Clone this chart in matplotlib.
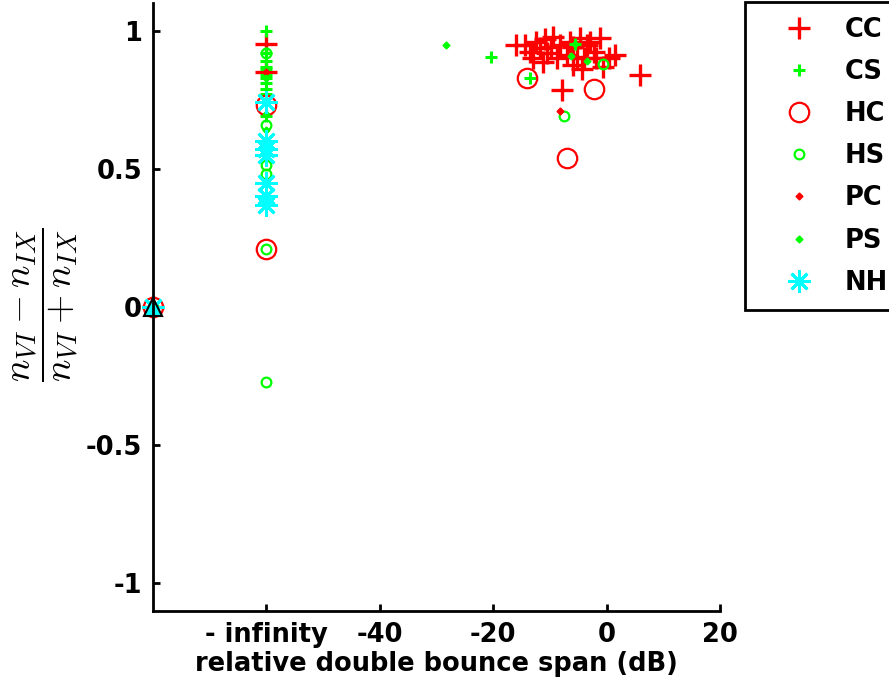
import matplotlib
matplotlib.use("Agg")
import matplotlib.pyplot as plt

plt.rcParams['font.family'] = ['DejaVu Sans']
plt.rcParams['font.weight'] = 'bold'
plt.rcParams['mathtext.fontset'] = 'cm'

# CC: red plus
cc_x = [-80, -60, -60, -15.9, -14.4, -13.5, -13.0, -12.5, -11.7, -11.2, -10.9, -10.5, -9.8, -9.4,
        -8.7, -8.2, -7.0, -6.5, -6.0, -5.9, -5.3, -4.7, -4.3, -4.0, -3.5, -3.0, -2.3, -1.8, -1.2,
        -0.6, 0.5, 1.5, -7.9, 5.9]
cc_y = [0, 0.95, 0.85, 0.948, 0.948, 0.924, 0.90, 0.96, 0.936, 0.888, 0.97, 0.92, 0.94, 0.978,
        0.90, 0.948, 0.912, 0.96, 0.94, 0.876, 0.906, 0.972, 0.86, 0.90, 0.948, 0.96, 0.924, 0.90, 0.972,
        0.87, 0.90, 0.912, 0.786, 0.84]
# CS: green plus
cs_x = [-80, -60, -60, -60, -60, -60, -60, -60, -60, -60, -60, -60, -20.3, -13.5, -5.5]
cs_y = [0, 1.0, 0.92, 0.89, 0.87, 0.86, 0.84, 0.83, 0.81, 0.79, 0.77, 0.69, 0.906, 0.83, 0.95]
# HC: red circle
hc_x = [-80, -60, -60, -14.1, -2.3, -6.9]
hc_y = [0, 0.73, 0.21, 0.83, 0.79, 0.54]
# HS: green circle
hs_x = [-80, -60, -60, -60, -60, -60, -60, -7.6, -0.6]
hs_y = [0, 0.92, 0.66, 0.515, 0.48, 0.21, -0.27, 0.69, 0.88]
# PC: red diamond
pc_x = [-80, -60, -8.2]
pc_y = [0, 0.85, 0.71]
# PS: green diamond
ps_x = [-80, -60, -60, -60, -60, -28.3, -5.5, -6.2, -3.5]
ps_y = [0, 0.83, 0.75, 0.70, 0.64, 0.949, 0.95, 0.91, 0.89]
# NH: cyan asterisk
nh_x = [-80, -60, -60, -60, -60, -60, -60, -60]
nh_y = [0, 0.74, 0.60, 0.57, 0.55, 0.45, 0.40, 0.37]
# extra triangle
tri_x = [-80]
tri_y = [0]

xticks = [-60, -40, -20, 0, 20]
xticklabels = ['- infinity', '-40', '-20', '0', '20']
yticks = [-1, -0.5, 0, 0.5, 1]
yticklabels = ['-1', '-0.5', '0', '0.5', '1']

red = '#ff0000'
green = '#00ff00'
cyan = '#00ffff'

fig = plt.figure(figsize=(8.89, 6.96), dpi=100)
ax = fig.add_axes([153/889, 85/696, 567/889, 608/696])

ax.plot(cc_x, cc_y, ls='none', marker='+', ms=16.5, mew=2.4, color=red, label='CC', clip_on=False)
ax.plot(cs_x, cs_y, ls='none', marker='+', ms=9, mew=2.2, color=green, label='CS', clip_on=False)
ax.plot(hc_x, hc_y, ls='none', marker='o', ms=14, mew=1.6, mfc='none', color=red, label='HC', clip_on=False)
ax.plot(hs_x, hs_y, ls='none', marker='o', ms=7, mew=1.6, mfc='none', color=green, label='HS', clip_on=False)
ax.plot(pc_x, pc_y, ls='none', marker='D', ms=3.5, mew=1, color=red, label='PC', clip_on=False)
ax.plot(ps_x, ps_y, ls='none', marker='D', ms=3.5, mew=1, color=green, label='PS', clip_on=False)
ax.plot(nh_x, nh_y, ls='none', marker=(8, 2, 0), ms=16, mew=2, color=cyan, label='NH', clip_on=False)
ax.plot(tri_x, tri_y, ls='none', marker='^', ms=13, mew=1.5, mfc=cyan, mec='black', clip_on=False)

ax.set_xlim(-80, 20)
ax.set_ylim(-1.1, 1.1)
ax.set_xticks(xticks)
ax.set_xticklabels(xticklabels)
ax.set_yticks(yticks)
ax.set_yticklabels(yticklabels)
ax.tick_params(direction='in', length=5, width=2, labelsize=18.5, pad=8)
for s in ['top', 'right']:
    ax.spines[s].set_visible(False)
for s in ['left', 'bottom']:
    ax.spines[s].set_linewidth(2)

ax.set_xlabel('relative double bounce span (dB)', fontsize=18.5, fontweight='bold', labelpad=2)
fig.text(46/889, 1 - 305/696, r'$\dfrac{n_{VI}-n_{IX}}{n_{VI}+n_{IX}}$', rotation=90,
         fontsize=27, ha='center', va='center')

leg = ax.legend(loc='upper left', bbox_to_anchor=(745/889, 1 - 2/696), bbox_transform=fig.transFigure,
                fontsize=18.5, frameon=True, fancybox=False, edgecolor='black', framealpha=1,
                borderaxespad=0, borderpad=0.57, handlelength=3.1, handletextpad=0.2,
                labelspacing=0.63, numpoints=1)
leg.get_frame().set_linewidth(2)

fig.savefig('out.png', dpi=100)
